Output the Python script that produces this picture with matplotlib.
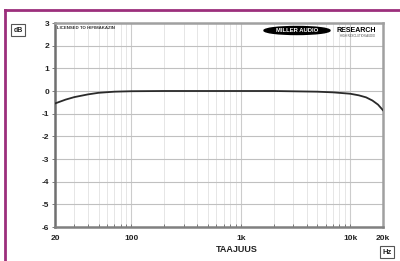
import matplotlib
matplotlib.use("Agg")
import matplotlib.pyplot as plt
from matplotlib.patches import Ellipse, Rectangle
from matplotlib.lines import Line2D
import numpy as np

freqs = [20, 25, 30, 40, 50, 70, 100, 200, 500, 1000, 2000, 5000, 7000, 10000, 12000, 14000, 16000, 18000, 20000]
db = [-0.55, -0.38, -0.27, -0.15, -0.08, -0.03, -0.01, 0.0, 0.0, 0.0, 0.0, -0.03, -0.06, -0.12, -0.19, -0.28, -0.42, -0.6, -0.85]
yticks = [3, 2, 1, 0, -1, -2, -3, -4, -5, -6]
xticks = [20, 100, 1000, 10000, 20000]
xticklabels = ["20", "100", "1k", "10k", "20k"]

W, H = 400, 261
fig = plt.figure(figsize=(4, 2.61), dpi=100)
fig.patch.set_facecolor("white")

def fx(px):
    return px / W
def fy(py):
    return 1 - py / H

# purple frame
purple = "#9c2f7c"
fig.add_artist(Line2D([fx(5), fx(400)], [fy(10), fy(10)], color=purple, lw=2.0))
fig.add_artist(Line2D([fx(5), fx(5)], [fy(10), fy(261)], color=purple, lw=2.0))

ax = fig.add_axes([fx(55), fy(227), fx(383) - fx(55), fy(23) - fy(227)])
ax.set_xscale("log")
ax.set_xlim(20, 20000)
ax.set_ylim(-6, 3)

# grid
minor = []
for dec in [10, 100, 1000, 10000]:
    for m in range(1, 10):
        v = m * dec
        if 20 <= v <= 20000:
            minor.append(v)
for v in minor:
    major = v in (100, 1000, 10000)
    ax.axvline(v, color="#cccccc" if major else "#e6e6e6", lw=0.8 if major else 0.7, zorder=0)
for y in yticks:
    ax.axhline(y, color="#c0c0c0", lw=0.8, zorder=0)

ax.plot(freqs, db, color="#2a2a2a", lw=1.3, zorder=3)

for s in ax.spines.values():
    s.set_color("#a0a0a0")
    s.set_linewidth(1.8)
ax.spines["left"].set_color("#707070")
ax.spines["bottom"].set_color("#808080")

ax.set_yticks(yticks)
ax.set_yticklabels([str(v) for v in yticks])
ax.set_xticks(xticks)
ax.set_xticklabels(xticklabels)
ax.set_xticks(minor, minor=True)
ax.xaxis.set_minor_formatter(matplotlib.ticker.NullFormatter())
ax.tick_params(axis="both", which="both", labelsize=6, length=2, width=0.6, color="#666666", pad=2)
ax.tick_params(axis="x", which="both", direction="in", pad=6)
for lab in ax.get_xticklabels() + ax.get_yticklabels():
    lab.set_fontweight("bold")
    lab.set_color("#222222")
    lab.set_family("Liberation Sans")

ax.text(0.005, 0.985, "LICENSED TO HIFIMAKAZIN", transform=ax.transAxes, fontsize=3.2,
        ha="left", va="top", color="#333333", family="Liberation Sans", fontweight="bold")

# logo
fig.add_artist(Ellipse((fx(297), fy(30.5)), fx(66), 1 - fy(8), transform=fig.transFigure,
                       facecolor="black", edgecolor="black"))
fig.text(fx(297), fy(30.5), "MILLER AUDIO", fontsize=4.2, color="white", ha="center", va="center",
         fontweight="bold", family="Liberation Sans")
fig.text(fx(356), fy(30), "RESEARCH", fontsize=5, color="black", ha="center", va="center",
         fontweight="bold", family="Liberation Sans")
fig.text(fx(358), fy(36), "HIGH RESOLUTION AUDIO", fontsize=2, color="#444444", ha="center", va="center",
         family="Liberation Sans")

# dB box
fig.text(fx(18), fy(30), "dB", fontsize=5, ha="center", va="center", fontweight="bold",
         family="Liberation Sans", color="#222222",
         bbox=dict(boxstyle="square,pad=0.35", fc="white", ec="#555555", lw=0.8))
# Hz box
fig.text(fx(387), fy(252), "Hz", fontsize=5.5, ha="center", va="center", fontweight="bold",
         family="Liberation Sans", color="#222222",
         bbox=dict(boxstyle="square,pad=0.3", fc="white", ec="#555555", lw=0.8))

fig.text(fx(237), fy(250), "TAAJUUS", fontsize=6.5, ha="center", va="center", fontweight="bold",
         family="Liberation Sans", color="#222222")

fig.savefig("out.png", dpi=100)
